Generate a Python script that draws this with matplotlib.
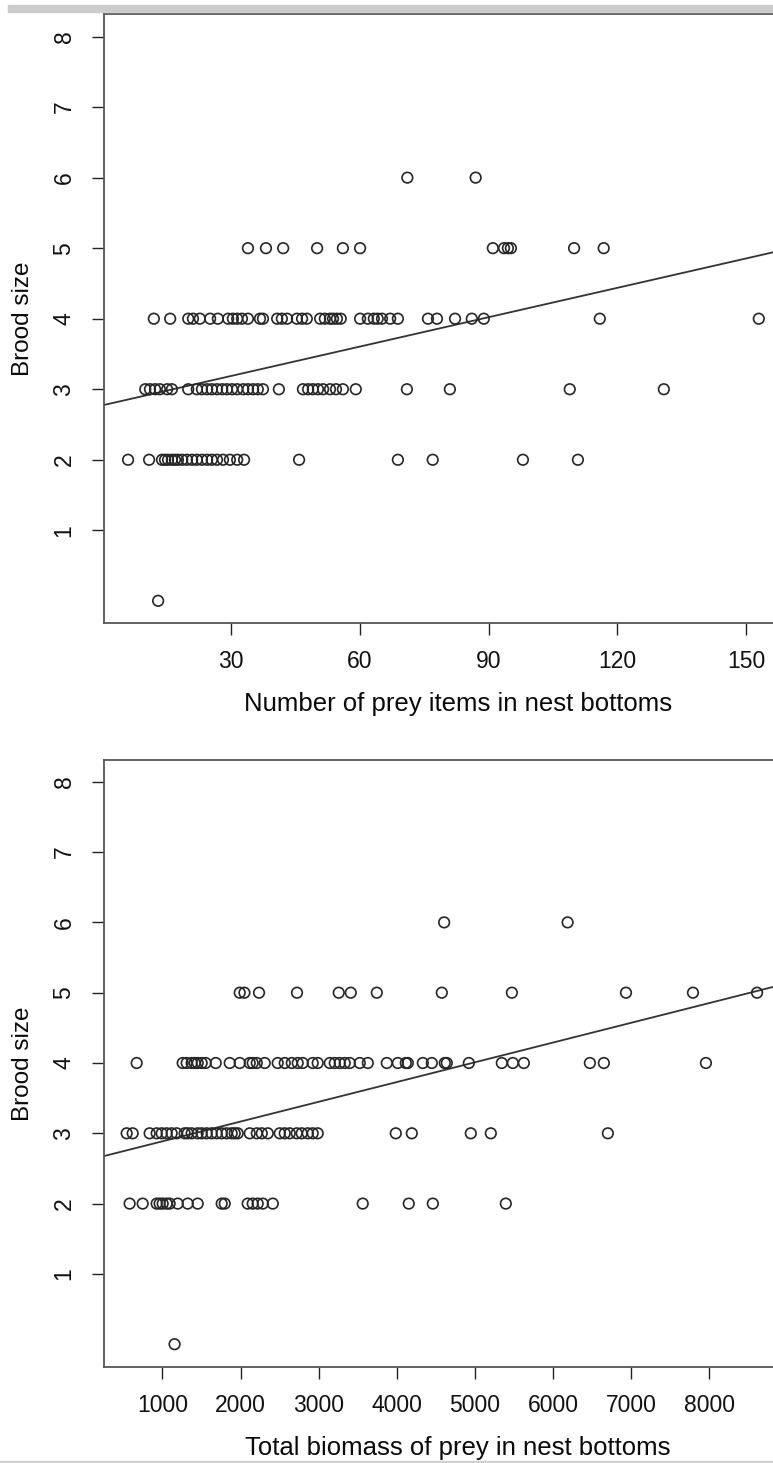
import numpy as np
import matplotlib.pyplot as plt
from matplotlib.patches import Rectangle

plt.rcParams['font.family'] = ['Liberation Sans', 'DejaVu Sans']

# number of prey items, grouped by brood size
prey_b0 = [13.1]
prey_b2 = [6.1, 11.0, 14.0, 14.7, 15.4, 16.3, 17.0, 17.7, 18.7, 19.8, 21.0, 22.1,
           23.3, 24.5, 25.6, 26.8, 28.2, 29.8, 31.5, 33.1, 45.9, 68.9, 77.0, 98.0, 110.8]
prey_b3 = [10.1, 11.2, 12.4, 13.5, 15.2, 16.3, 20.1, 22.1, 23.3, 24.5, 25.6, 26.8,
           28.0, 29.1, 30.3, 31.5, 32.9, 34.0, 35.2, 36.3, 37.5, 41.2, 46.8, 48.0,
           49.1, 50.3, 51.5, 53.1, 54.5, 56.1, 59.1, 71.0, 81.0, 108.9, 130.8]
prey_b4 = [12.1, 15.9, 20.1, 21.2, 22.8, 25.2, 27.0, 29.4, 30.5, 31.5, 32.6, 34.0,
           36.8, 37.5, 40.8, 41.9, 43.1, 45.4, 46.6, 47.7, 50.8, 51.9, 53.1, 53.8,
           54.7, 55.6, 60.1, 61.9, 63.3, 64.2, 65.2, 67.1, 68.9, 75.9, 78.0, 82.2,
           86.1, 88.9, 115.9, 152.9]
prey_b5 = [34.0, 38.2, 42.2, 50.1, 56.1, 60.1, 91.0, 93.6, 94.5, 95.2, 109.9, 116.8]
prey_b6 = [71.1, 87.0]
prey_fit = (2.77, 0.0139)  # intercept, slope

# total biomass of prey, grouped by brood size
mass_b0 = [1156]
mass_b2 = [581, 748, 927, 965, 1004, 1055, 1093, 1196, 1324, 1452, 1759, 1798,
           2092, 2156, 2220, 2285, 2413, 3564, 4153, 4461, 5395]
mass_b3 = [543, 620, 837, 927, 991, 1055, 1119, 1183, 1285, 1324, 1375, 1452,
           1503, 1567, 1631, 1695, 1759, 1823, 1887, 1926, 1964, 2118, 2208, 2272,
           2349, 2502, 2566, 2630, 2719, 2783, 2860, 2924, 2988, 3987, 4192, 4947,
           5203, 6701]
mass_b4 = [671, 1260, 1311, 1375, 1414, 1452, 1503, 1554, 1683, 1862, 1990, 2118,
           2156, 2208, 2310, 2476, 2566, 2656, 2732, 2796, 2924, 2988, 3142, 3206,
           3270, 3334, 3398, 3526, 3629, 3872, 4013, 4115, 4141, 4333, 4448, 4614,
           4640, 4922, 5344, 5485, 5626, 6471, 6650, 7956]
mass_b5 = [1990, 2050, 2237, 2723, 3257, 3411, 3744, 4576, 5473, 6933, 7790, 8610]
mass_b6 = [4606, 6186]
mass_fit = (2.605, 0.000281)

brood_sizes = [0, 2, 3, 4, 5, 6]
y_ticks = [1, 2, 3, 4, 5, 6, 7, 8]
prey_ticks = [30, 60, 90, 120, 150]
mass_ticks = [1000, 2000, 3000, 4000, 5000, 6000, 7000, 8000]

W, H = 773, 1463


def stack(groups):
    xs, ys = [], []
    for b, g in zip(brood_sizes, groups):
        xs += g
        ys += [b] * len(g)
    return np.array(xs, float), np.array(ys, float)


def panel(rect, groups, fit, xlim, ylim, xticks, xlabel):
    ax = plt.axes(rect)
    x, y = stack(groups)
    ax.scatter(x, y, s=58, facecolors='none', edgecolors='#262626', linewidths=1.2, zorder=3)
    ax.axline((0, fit[0]), slope=fit[1], color='#333333', lw=1.3, zorder=2)
    ax.set_xlim(*xlim)
    ax.set_ylim(*ylim)
    ax.set_xticks(xticks)
    ax.set_yticks(y_ticks)
    ax.set_yticklabels([str(t) for t in y_ticks], rotation=90, va='center')
    ax.tick_params(axis='both', direction='out', length=8.5, width=1.0, colors='#222222',
                   labelsize=16.5, labelcolor='#111111')
    ax.tick_params(axis='y', pad=12)
    ax.tick_params(axis='x', pad=11)
    for s in ax.spines.values():
        s.set_color('#555555')
        s.set_linewidth(1.3)
    ax.set_xlabel(xlabel, fontsize=18.5, labelpad=14, color='#0a0a0a')
    ax.set_ylabel('Brood size', fontsize=17.5, labelpad=13, color='#0a0a0a')
    return ax


fig = plt.figure(figsize=(W / 100, H / 100), dpi=100)

left = 104 / W
right = 1.05
top_panel = panel([left, 1 - 622.7 / H, right - left, (622.7 - 14) / H],
                  [prey_b0, prey_b2, prey_b3, prey_b4, prey_b5, prey_b6], prey_fit,
                  (0.5, 165.2), (-0.31, 8.32), prey_ticks,
                  'Number of prey items in nest bottoms')
bottom_panel = panel([left, 1 - 1366.7 / H, right - left, (1366.7 - 760) / H],
                     [mass_b0, mass_b2, mass_b3, mass_b4, mass_b5, mass_b6], mass_fit,
                     (253, 9309), (-0.32, 8.31), mass_ticks,
                     'Total biomass of prey in nest bottoms')

# grey strips of the page around the figure
fig.patches.append(Rectangle((8 / W, 1 - 12 / H), 1, 7 / H, transform=fig.transFigure,
                             color='#cccccc', zorder=0))
fig.patches.append(Rectangle((0, 0), 1, 2 / H, transform=fig.transFigure,
                             color='#d0d0d0', zorder=0))

fig.savefig('out.png', dpi=100)
